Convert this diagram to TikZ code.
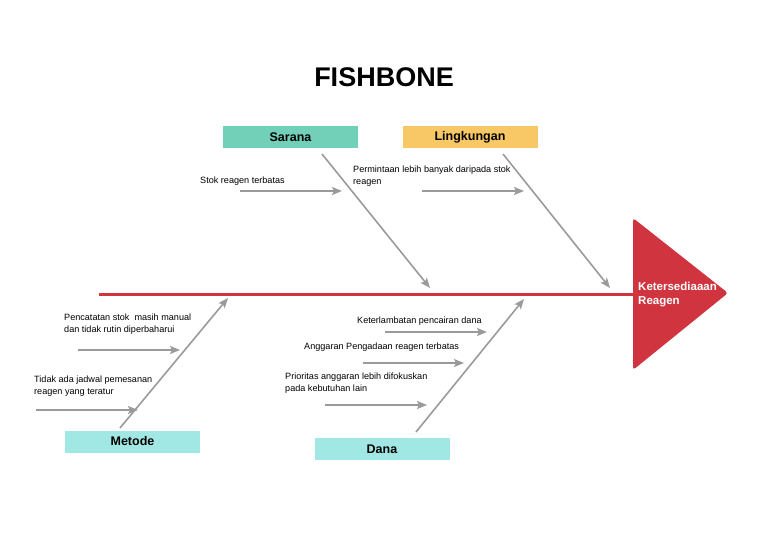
\documentclass[tikz,border=0pt]{standalone}
\usepackage{fontspec}
\setmainfont{Liberation Sans}
\usetikzlibrary{arrows.meta,positioning}
\definecolor{saranaC}{HTML}{72CFB8}
\definecolor{lingkC}{HTML}{F8C766}
\definecolor{cyanC}{HTML}{A1E8E4}
\definecolor{spineC}{HTML}{CF343F}
\definecolor{boneC}{HTML}{9A9A9A}

\begin{document}
\begin{tikzpicture}[x=1pt,y=-1pt,
	cat/.style={minimum width=135pt,minimum height=22pt,inner sep=0pt,font=\fontsize{12.5}{14}\selectfont\bfseries},
	lbl/.style={anchor=west,align=left,inner sep=0pt,font=\fontsize{9.1}{12.5}\selectfont},
	bone/.style={draw=boneC,line width=1.6pt,-{Stealth[length=10pt,width=8pt,inset=2pt]}},
	twig/.style={draw=boneC,line width=1.6pt,-{Stealth[length=10pt,width=8pt,inset=2pt]}}]
	\useasboundingbox (0,0) rectangle (768,543);
	% title
	\node[font=\fontsize{27}{30}\selectfont\bfseries] (title) at (384,77) {FISHBONE};
	% head
	\fill[spineC,rounded corners=3pt] (633,218) -- (728,293) -- (633,370) -- cycle;
	\node[anchor=west,align=left,inner sep=0pt,text=white,font=\fontsize{11.5}{14}\selectfont\bfseries] (head) at (638,295) {Ketersediaaan\\Reagen};
	% spine
	\coordinate (tail) at (99,294);
	\coordinate (mouth) at (634,294);
	\draw[spineC,line width=3pt] (tail) -- (mouth);
	% categories
	\node[cat,fill=saranaC] (sarana) at (290.5,137) {Sarana};
	\node[cat,fill=lingkC] (lingkungan) at (470,137) {Lingkungan};
	\node[cat,fill=cyanC] (metode) at (132.5,441.5) {Metode};
	\node[cat,fill=cyanC] (dana) at (382,449) {Dana};
	% bones
	\coordinate (s1) at (322,154);
	\coordinate (s2) at (430,288);
	\coordinate (l1) at (503,154);
	\coordinate (l2) at (610,288);
	\coordinate (m1) at (120,428);
	\coordinate (m2) at (228,298);
	\coordinate (d1) at (416,432);
	\coordinate (d2) at (524,299);
	\draw[bone] (s1) -- (s2);
	\draw[bone] (l1) -- (l2);
	\draw[bone] (m1) -- (m2);
	\draw[bone] (d1) -- (d2);
	% causes
	\node[lbl] (stok) at (200,181) {Stok reagen terbatas};
	\node[lbl] (minta) at (353,176) {Permintaan lebih banyak daripada stok\\reagen};
	\node[lbl] (catat) at (64,324) {Pencatatan stok~~masih manual\\dan tidak rutin diperbaharui};
	\node[lbl] (jadwal) at (34,386) {Tidak ada jadwal pemesanan\\reagen yang teratur};
	\node[lbl] (lambat) at (357,321) {Keterlambatan pencairan dana};
	\node[lbl] (anggaran) at (304,347) {Anggaran Pengadaan reagen terbatas};
	\node[lbl] (prioritas) at (285,383) {Prioritas anggaran lebih difokuskan\\pada kebutuhan lain};
	% twigs
	\coordinate (a1) at (240,191); \coordinate (a2) at (342,191);
	\coordinate (b1) at (422,191); \coordinate (b2) at (524,191);
	\coordinate (c1) at (78,350);  \coordinate (c2) at (180,350);
	\coordinate (e1) at (36,410);  \coordinate (e2) at (138,410);
	\coordinate (f1) at (385,332); \coordinate (f2) at (487,332);
	\coordinate (g1) at (363,363); \coordinate (g2) at (464,363);
	\coordinate (h1) at (325,405); \coordinate (h2) at (427,405);
	\draw[twig] (a1) -- (a2);
	\draw[twig] (b1) -- (b2);
	\draw[twig] (c1) -- (c2);
	\draw[twig] (e1) -- (e2);
	\draw[twig] (f1) -- (f2);
	\draw[twig] (g1) -- (g2);
	\draw[twig] (h1) -- (h2);
\end{tikzpicture}
\end{document}
